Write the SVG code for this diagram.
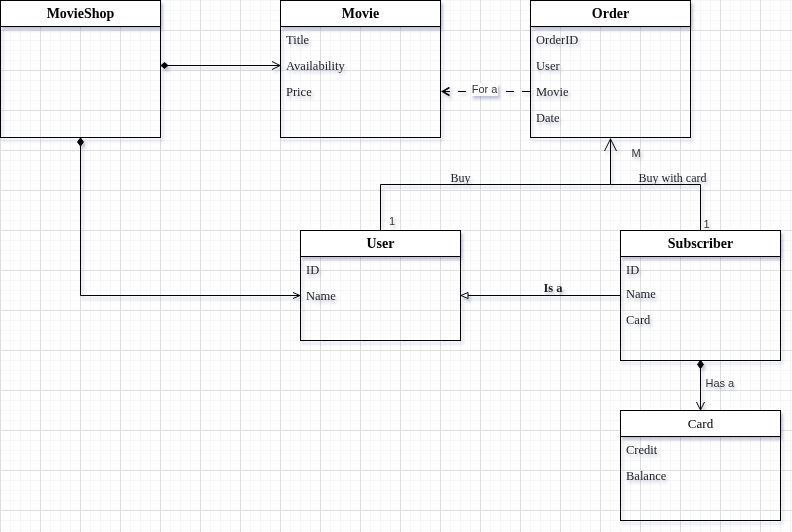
<svg xmlns="http://www.w3.org/2000/svg" width="792" height="532" viewBox="0 0 792 532">
<style>
.box{fill:none;stroke:#000;stroke-width:1}
.hdr{fill:#fff;stroke:#000;stroke-width:1}
.t{font-family:"Liberation Serif",serif;font-size:12.5px;fill:#222}
.h{font-family:"Liberation Serif",serif;font-size:14px;font-weight:bold;text-anchor:middle;fill:#000}
.hn{font-family:"Liberation Serif",serif;font-size:13px;text-anchor:middle;fill:#000}
.lbl{font-family:"Liberation Serif",serif;font-size:12px;text-anchor:middle;fill:#222}
.s{font-family:"Liberation Sans",Arial,sans-serif;font-size:11px;fill:#333}
.ln{fill:none;stroke:#000;stroke-width:1}
.dash{stroke-dasharray:8 8}
.fill{fill:#000;stroke:#000;stroke-width:1}
.open{fill:#fff;stroke:#000;stroke-width:1}
</style>
<defs>
<pattern id="grid" x="0" y="30" width="40" height="40" patternUnits="userSpaceOnUse">
<path d="M10.5 0V40M20.5 0V40M30.5 0V40M0 10.5H40M0 20.5H40M0 30.5H40" stroke="#f6f6f6" stroke-width="1" fill="none"/>
<path d="M0.5 0V40M0 0.5H40" stroke="#dedede" stroke-width="1" fill="none"/>
</pattern>
<filter id="sh" filterUnits="userSpaceOnUse" x="0" y="0" width="792" height="532">
<feDropShadow dx="2" dy="3" stdDeviation="1.5" flood-color="#3a4a80" flood-opacity="0.32"/>
</filter>
</defs>
<rect x="0" y="0" width="792" height="532" fill="#fff"/>
<rect x="0" y="0" width="792" height="532" fill="url(#grid)"/>

<g id="connectors" filter="url(#sh)">
<path class="ln" d="M168 65.5H280"/>
<polygon class="fill" points="161,65.5 164.5,62.5 168,65.5 164.5,68.5"/>
<polyline class="ln" points="272,61.5 280,65.5 272,69.5"/>

<path class="ln" d="M80.5 146V295.5H300"/>
<polygon class="fill" points="80.5,138 83.5,142 80.5,146 77.5,142"/>
<polyline class="ln" points="293,292.5 300,295.5 293,298.5"/>

<path class="ln dash" d="M530 91.5H442"/>
<polyline class="ln" points="449.5,87.5 442.5,91.5 449.5,95.5" style="stroke-width:1.5"/>
<rect x="471" y="83" width="27" height="13" fill="#fff"/>
<text class="s" x="484.5" y="93" text-anchor="middle">For a</text>

<path class="ln" d="M380.5 230V184.5H610.5V138.5"/>
<path class="ln" d="M700.5 230V184.5H610.5"/>
<polyline class="ln" points="604.5,151 610.5,139 616.5,151"/>
<text class="lbl" x="460.5" y="181.5">Buy</text>
<text class="lbl" x="672.5" y="181.5">Buy with card</text>
<text class="s" x="636" y="157" text-anchor="middle">M</text>
<text class="s" x="392" y="225" text-anchor="middle">1</text>
<text class="s" x="706.5" y="228" text-anchor="middle">1</text>

<path class="ln" d="M620 295.5H468"/>
<polygon class="open" points="468,292.5 461,295.5 468,298.5"/>
<text class="lbl" x="553" y="292" style="font-weight:bold;font-size:12.5px">Is a</text>

<path class="ln" d="M700.5 368V410"/>
<polygon class="fill" points="700.5,360.5 703.5,364.5 700.5,368.5 697.5,364.5"/>
<polyline class="ln" points="696.5,402 700.5,410 704.5,402"/>
<text class="s" x="705.5" y="387">Has a</text>
</g>

<g id="MovieShop" filter="url(#sh)">
<rect class="hdr" x="0.5" y="0.5" width="160" height="26"/>
<rect class="box" x="0.5" y="0.5" width="160" height="137"/>
<text class="h" x="80.5" y="18">MovieShop</text>
</g>

<g id="Movie" filter="url(#sh)">
<rect class="hdr" x="280.5" y="0.5" width="160" height="26"/>
<rect class="box" x="280.5" y="0.5" width="160" height="137"/>
<text class="h" x="360.5" y="18">Movie</text>
<text class="t" x="286" y="44">Title</text>
<text class="t" x="286" y="70">Availability</text>
<text class="t" x="286" y="96">Price</text>
</g>

<g id="Order" filter="url(#sh)">
<rect class="hdr" x="530.5" y="0.5" width="160" height="26"/>
<rect class="box" x="530.5" y="0.5" width="160" height="137"/>
<text class="h" x="610.5" y="18">Order</text>
<text class="t" x="536" y="44">OrderID</text>
<text class="t" x="536" y="70">User</text>
<text class="t" x="536" y="96">Movie</text>
<text class="t" x="536" y="122">Date</text>
</g>

<g id="User" filter="url(#sh)">
<rect class="hdr" x="300.5" y="230.5" width="160" height="26"/>
<rect class="box" x="300.5" y="230.5" width="160" height="110"/>
<text class="h" x="380.5" y="248">User</text>
<text class="t" x="306" y="274">ID</text>
<text class="t" x="306" y="300">Name</text>
</g>

<g id="Subscriber" filter="url(#sh)">
<rect class="hdr" x="620.5" y="230.5" width="160" height="26"/>
<rect class="box" x="620.5" y="230.5" width="160" height="130"/>
<text class="h" x="700.5" y="248">Subscriber</text>
<text class="t" x="626" y="274">ID</text>
<text class="t" x="626" y="298">Name</text>
<text class="t" x="626" y="324">Card</text>
</g>

<g id="Card" filter="url(#sh)">
<rect class="hdr" x="620.5" y="410.5" width="160" height="26"/>
<rect class="box" x="620.5" y="410.5" width="160" height="110"/>
<text class="hn" x="700.5" y="428">Card</text>
<text class="t" x="626" y="454">Credit</text>
<text class="t" x="626" y="480">Balance</text>
</g>
</svg>
